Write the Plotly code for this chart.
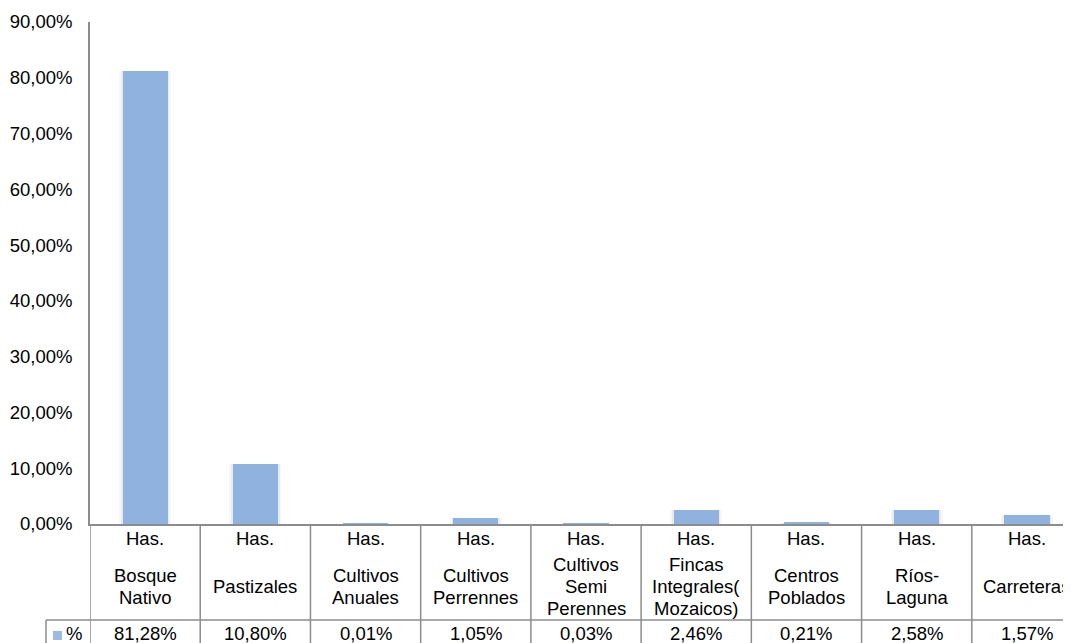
import plotly.graph_objects as go

CATEGORIES = [
    "Bosque<br>Nativo",
    "Pastizales",
    "Cultivos<br>Anuales",
    "Cultivos<br>Perrennes",
    "Cultivos<br>Semi<br>Perennes",
    "Fincas<br>Integrales(<br>Mozaicos)",
    "Centros<br>Poblados",
    "Ríos-<br>Laguna",
    "Carreteras",
]
HEADER = "Has."
PERCENT = [0.8128, 0.1080, 0.0001, 0.0105, 0.0003, 0.0246, 0.0021, 0.0258, 0.0157]
VALUE_LABELS = ["81,28%", "10,80%", "0,01%", "1,05%", "0,03%", "2,46%", "0,21%", "2,58%", "1,57%"]
SERIES_NAME = "%"
Y_TICKS = [0, 0.1, 0.2, 0.3, 0.4, 0.5, 0.6, 0.7, 0.8, 0.9]

# the page body has an 8px margin, so the figure is 8px smaller than the window
W, H = 1063, 635
M_L, M_R, M_T, M_B = 82, 0, 14, 119
PLOT_H = H - M_T - M_B
PLOT_W = W - M_L - M_R

BAR = "#90B2DE"
KEY = "#9BBBE3"
GRID = "#8C8C8C"
FONT = "Liberation Sans, Arial, sans-serif"
FS = 18.5
LINE_H = 22


def py(d):
    # pixels below the x axis -> paper y
    return -d / PLOT_H


def px(xpix):
    return (xpix - M_L) / PLOT_W


idx = list(range(len(CATEGORIES)))

fig = go.Figure()
# soft shadow behind the bars
for w, a in [(0.47, 0.03), (0.44, 0.05)]:
    fig.add_trace(go.Bar(x=idx, y=PERCENT, width=w, marker_color=f"rgba(0,0,0,{a})",
                         marker_line_width=0, hoverinfo="skip", showlegend=False))
fig.add_trace(go.Bar(x=idx, y=PERCENT, width=0.41, name=SERIES_NAME,
                     marker=dict(color=BAR, line_width=0), showlegend=False))

shapes = []
line = dict(color=GRID, width=1.5)
# vertical table lines
for i in range(len(CATEGORIES) + 1):
    shapes.append(dict(type="line", xref="x", yref="paper", x0=i - 0.5, x1=i - 0.5,
                       y0=0, y1=py(M_B + 2), line=line))
# horizontal line between header and value rows
shapes.append(dict(type="line", xref="paper", yref="paper", x0=px(38), x1=1.02,
                   y0=py(96), y1=py(96), line=line))
# legend cell left edge
shapes.append(dict(type="line", xref="paper", yref="paper", x0=px(38), x1=px(38),
                   y0=py(96), y1=py(M_B + 2), line=line))
# legend key square
shapes.append(dict(type="rect", xref="paper", yref="paper", x0=px(45), x1=px(54),
                   y0=py(107), y1=py(116), fillcolor=KEY, line_width=0))

annotations = []
for i, cat in enumerate(CATEGORIES):
    annotations.append(dict(x=i, y=py(14), xref="x", yref="paper", text=HEADER,
                            showarrow=False, yanchor="middle"))
    parts = cat.split("<br>")
    n = len(parts)
    for k, part in enumerate(parts):
        d = 62 + (k - (n - 1) / 2) * LINE_H
        annotations.append(dict(x=i, y=py(d), xref="x", yref="paper", text=part,
                                showarrow=False, yanchor="middle"))
    annotations.append(dict(x=i, y=py(109), xref="x", yref="paper", text=VALUE_LABELS[i],
                            showarrow=False, yanchor="middle"))
annotations.append(dict(x=px(56), y=py(109), xref="paper", yref="paper",
                        text=SERIES_NAME, showarrow=False, xanchor="left", yanchor="middle"))

fig.update_layout(
    width=W, height=H,
    margin=dict(l=M_L, r=M_R, t=M_T, b=M_B, autoexpand=False),
    paper_bgcolor="white", plot_bgcolor="white",
    font=dict(family=FONT, size=FS, color="#000000"),
    separators=",.",
    barmode="overlay",
    bargap=0,
    shapes=shapes,
    annotations=annotations,
)
fig.update_xaxes(range=[-0.5, 8.4], showticklabels=False, ticks="", showgrid=False,
                 zeroline=False, showline=True, linecolor=GRID, linewidth=1.5,
                 automargin=False)
fig.update_yaxes(range=[0, 0.9], tickvals=Y_TICKS, tickformat=".2%", showgrid=False,
                 zeroline=False, showline=True, linecolor=GRID, linewidth=1.5,
                 ticks="", ticklabelstandoff=12, automargin=False)

fig.write_html("out.html")
